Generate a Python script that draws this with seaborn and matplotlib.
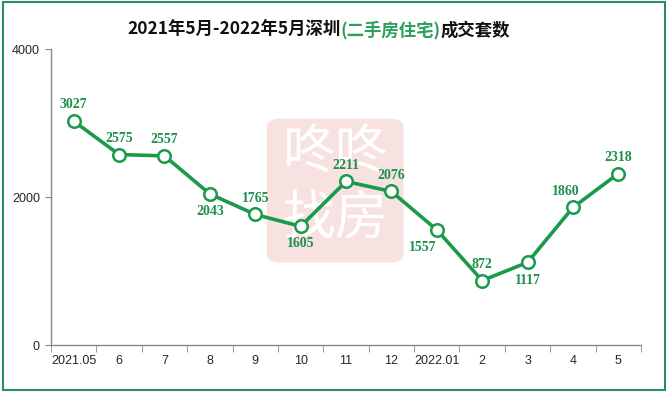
import matplotlib
matplotlib.use("Agg")
import matplotlib.pyplot as plt
import seaborn as sns
import pandas as pd
from matplotlib.patches import Rectangle, FancyBboxPatch

# data
months = ["2021.05", "6", "7", "8", "9", "10", "11", "12",
          "2022.01", "2", "3", "4", "5"]
deals = [3027, 2575, 2557, 2043, 1765, 1605, 2211, 2076,
         1557, 872, 1117, 1860, 2318]
# where each value label sits relative to its point
label_pos = ["up", "up", "up", "down", "up", "down", "up", "up",
             "downleft", "up", "down", "upleft", "up"]

df = pd.DataFrame({"idx": range(len(months)), "deals": deals})

sns.set_style("white")
plt.rcParams["font.family"] = ["Noto Sans CJK SC", "DejaVu Sans"]

green = "#1a9a4a"
label_green = "#1f8f4c"

fig = plt.figure(figsize=(6.69, 3.93), dpi=100)
ax = fig.add_axes([0.0762, 0.122, 0.882, 0.753])

# faint watermark behind the line
wm = FancyBboxPatch((0.402, 0.335), 0.198, 0.36, boxstyle="round,pad=0.003,rounding_size=0.02",
                    transform=fig.transFigure, facecolor="#f7e1e1", edgecolor="none", zorder=0.5)
ax.add_patch(wm)
ax.text(0.501, 0.612, "咚咚", color="white", fontsize=38, transform=fig.transFigure,
        ha="center", va="center", zorder=1)
ax.text(0.501, 0.445, "找房", color="white", fontsize=38, transform=fig.transFigure,
        ha="center", va="center", zorder=1)

sns.lineplot(data=df, x="idx", y="deals", ax=ax, color=green, linewidth=2.6,
             marker="o", markersize=9, markerfacecolor="white",
             markeredgecolor=green, markeredgewidth=1.8, zorder=3)

offsets = {"up": (0, 7, "center", "bottom"), "down": (0, -8, "center", "top"),
           "downleft": (-10, -8, "center", "top"), "upleft": (-5, 7, "center", "bottom")}
for i, (v, p) in enumerate(zip(deals, label_pos)):
    dx, dy, ha, va = offsets[p]
    ax.annotate(str(v), (i, v), xytext=(dx, dy), textcoords="offset points",
                ha=ha, va=va, fontsize=10, fontweight="bold",
                family="Liberation Serif", color=label_green, zorder=4)

ax.set_xlim(-0.5, len(months) - 0.5)
ax.set_ylim(0, 4000)
ax.set_yticks([0, 2000, 4000])
ax.set_xticks(range(len(months)))
ax.set_xticklabels(months)
ax.set_xticks([i - 0.5 for i in range(len(months) + 1)], minor=True)
ax.tick_params(axis="x", which="major", length=0, pad=7, labelsize=9)
ax.tick_params(axis="x", which="minor", length=5, color="#888888", direction="out")
ax.tick_params(axis="y", length=4, color="#888888", labelsize=9, pad=4)
ax.tick_params(axis="y", which="both", left=True)
ax.tick_params(axis="x", which="both", bottom=True)
for lab in ax.get_xticklabels() + ax.get_yticklabels():
    lab.set_family("Liberation Sans")
ax.set_xlabel("")
ax.set_ylabel("")
for s in ["top", "right"]:
    ax.spines[s].set_visible(False)
for s in ["left", "bottom"]:
    ax.spines[s].set_color("#888888")
    ax.spines[s].set_linewidth(1)

# title in three parts, middle part green
parts = [("2021年5月-2022年5月深圳", "#111111"), ("(二手房住宅)", "#2aa05a"), ("成交套数", "#111111")]
texts = [fig.text(0, 0.923, t, color=c, fontsize=12.5, fontweight="bold",
                  va="center", ha="left") for t, c in parts]
fig.canvas.draw()
r = fig.canvas.get_renderer()
widths = [t.get_window_extent(r).width / fig.bbox.width for t in texts]
x = 0.477 - sum(widths) / 2
for t, w in zip(texts, widths):
    t.set_x(x)
    x += w

# outer border
fig.patches.append(Rectangle((0.005, 0.007), 0.989, 0.987, transform=fig.transFigure,
                             fill=False, edgecolor="#2e8b62", linewidth=1.5))

fig.savefig("out.png", dpi=100)
